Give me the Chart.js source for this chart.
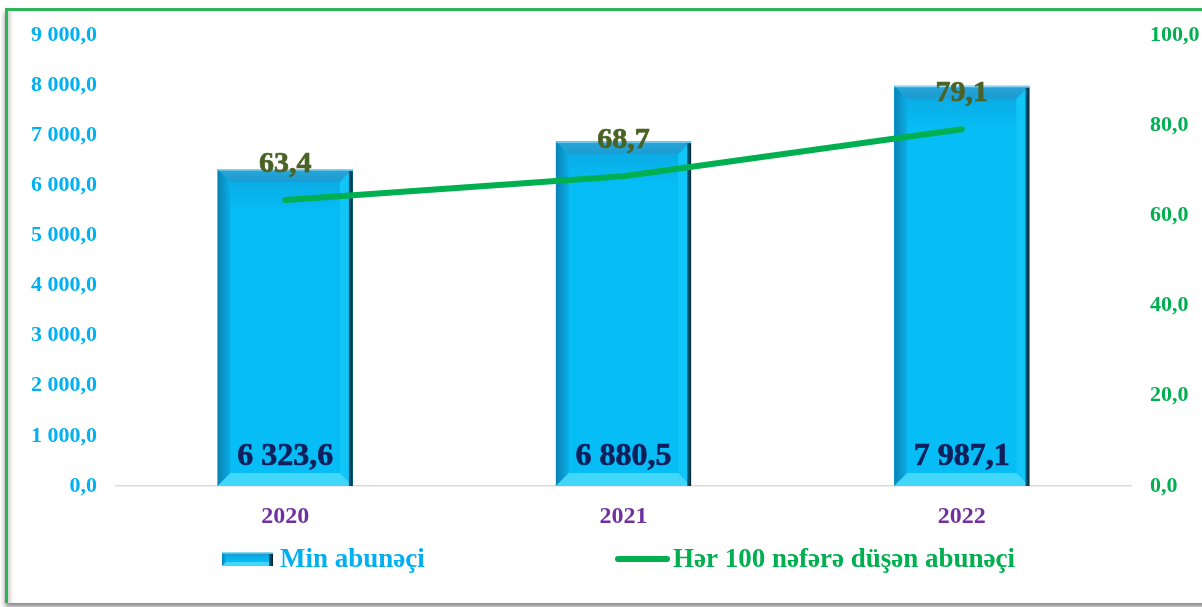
<!DOCTYPE html>
<html>
<head>
<meta charset="utf-8">
<script src="https://cdn.jsdelivr.net/npm/chart.js@4.4.0/dist/chart.umd.min.js"></script>
<style>
  body { margin: 0; background: #fff; }
  #frame {
    position: absolute; left: 5px; top: 8px; width: 1230px; height: 592px;
    border-top: 3px solid #2db457; border-left: 3px solid #2db457;
    box-shadow: inset 5px 0 4px -3px #c8c8c8, 0 4px 5px #8a8a8a;
  }
  #chartBox { position: absolute; left: 0; top: 0; width: 1202px; height: 607px; }
</style>
</head>
<body>
<div id="frame"></div>
<div id="chartBox"><canvas id="myChart" width="1202" height="607"></canvas></div>
<script>
// data
var years = ['2020', '2021', '2022'];
var subscribers = [6323.6, 6880.5, 7987.1];
var per100 = [63.4, 68.7, 79.1];
var seriesNames = ['Min abunəçi', 'Hər 100 nəfərə düşən abunəçi'];

var FONT = "'Liberation Serif', 'Times New Roman', serif";

function fmt(v) {
    var s = v.toFixed(1).split('.');
    return s[0].replace(/\B(?=(\d{3})+(?!\d))/g, ' ') + ',' + s[1];
}

// bevel drawn on top of each bar
function bevelBar(ctx, l, t, r, bot, b) {
    ctx.save();
    ctx.beginPath(); ctx.rect(l, t, r - l, bot - t); ctx.clip();
    ctx.fillStyle = '#06bdf5';
    ctx.fillRect(l, t, r - l, bot - t);
    // top
    var gt = ctx.createLinearGradient(0, t, 0, t + b);
    gt.addColorStop(0, '#2aa6d8'); gt.addColorStop(1, '#1b9bd0');
    ctx.fillStyle = gt;
    ctx.beginPath(); ctx.moveTo(l, t); ctx.lineTo(r, t); ctx.lineTo(r - b, t + b); ctx.lineTo(l + b, t + b); ctx.closePath(); ctx.fill();
    // soft shade under the top bevel
    var sh = Math.max(0, Math.min(30, bot - t - 2 * b));
    if (sh > 0) {
        var gs = ctx.createLinearGradient(0, t + b, 0, t + b + sh);
        gs.addColorStop(0, 'rgba(20,140,200,0.35)'); gs.addColorStop(1, 'rgba(20,140,200,0)');
        ctx.fillStyle = gs;
        ctx.fillRect(l + b, t + b, r - l - 2 * b, sh);
    }
    // left
    var g = ctx.createLinearGradient(l, 0, l + b, 0);
    g.addColorStop(0, '#0a82b4'); g.addColorStop(1, '#0aaee6');
    ctx.fillStyle = g;
    ctx.beginPath(); ctx.moveTo(l, t); ctx.lineTo(l + b, t + b); ctx.lineTo(l + b, bot - b); ctx.lineTo(l, bot); ctx.closePath(); ctx.fill();
    // right
    ctx.fillStyle = '#10c6f9';
    ctx.beginPath(); ctx.moveTo(r, t); ctx.lineTo(r, bot); ctx.lineTo(r - b, bot - b); ctx.lineTo(r - b, t + b); ctx.closePath(); ctx.fill();
    // bottom
    ctx.fillStyle = '#40d7fb';
    ctx.beginPath(); ctx.moveTo(l, bot); ctx.lineTo(r, bot); ctx.lineTo(r - b, bot - b); ctx.lineTo(l + b, bot - b); ctx.closePath(); ctx.fill();
    // dark right edge
    var g2 = ctx.createLinearGradient(r - 4, 0, r, 0);
    g2.addColorStop(0, '#0a6a90'); g2.addColorStop(1, '#06202e');
    ctx.fillStyle = g2;
    ctx.fillRect(r - 4, t + 2, 4, bot - t - 2);
    // light top rim
    ctx.fillStyle = 'rgba(180,235,255,0.7)';
    ctx.fillRect(l, t, r - l, 1.5);
    ctx.restore();
}

var barStyle = {
    id: 'barStyle',
    afterDatasetDraw: function (chart, args) {
        if (args.index !== 0) return;
        var ctx = chart.ctx;
        args.meta.data.forEach(function (bar) {
            var l = bar.x - bar.width / 2, r = bar.x + bar.width / 2;
            bevelBar(ctx, l, bar.y, r, bar.base, 13);
        });
    }
};

function boldText(ctx, txt, x, y) {
    ctx.fillText(txt, x, y);
    ctx.lineWidth = 0.7;
    ctx.strokeStyle = ctx.fillStyle;
    ctx.strokeText(txt, x, y);
}

var valueLabels = {
    id: 'valueLabels',
    afterDatasetsDraw: function (chart) {
        var ctx = chart.ctx;
        ctx.save();
        ctx.textAlign = 'center';
        ctx.textBaseline = 'middle';
        // bar values at bottom of bars
        ctx.font = 'bold 32px ' + FONT;
        ctx.fillStyle = '#0f1f5c';
        chart.getDatasetMeta(0).data.forEach(function (bar, i) {
            boldText(ctx, fmt(subscribers[i]), bar.x, bar.base - 29);
        });
        // line values above points
        ctx.font = 'bold 30px ' + FONT;
        ctx.fillStyle = '#4a6226';
        chart.getDatasetMeta(1).data.forEach(function (pt, i) {
            boldText(ctx, fmt(per100[i]), pt.x, pt.y - 36);
        });
        ctx.restore();
    }
};

var legendBox = {
    id: 'legendBox',
    afterDraw: function (chart) {
        var ctx = chart.ctx;
        var y = 559;
        ctx.save();
        bevelBar(ctx, 222, 552, 273, 566, 4);
        ctx.font = 'bold 27px ' + FONT;
        ctx.textBaseline = 'middle';
        ctx.textAlign = 'left';
        ctx.fillStyle = '#00b0f0';
        ctx.fillText(seriesNames[0], 280, y + 1);
        ctx.strokeStyle = '#00b050';
        ctx.lineWidth = 6;
        ctx.lineCap = 'round';
        ctx.beginPath(); ctx.moveTo(618, y); ctx.lineTo(667, y); ctx.stroke();
        ctx.fillStyle = '#00b050';
        ctx.fillText(seriesNames[1], 673, y + 1);
        ctx.restore();
    }
};

var ctxC = document.getElementById('myChart').getContext('2d');
var myChart = new Chart(ctxC, {
    type: 'bar',
    data: {
        labels: years,
        datasets: [{
            label: seriesNames[0],
            data: subscribers,
            backgroundColor: '#06bdf5',
            yAxisID: 'y',
            order: 1,
            barPercentage: 0.4,
            categoryPercentage: 1
        }, {
            type: 'line',
            label: seriesNames[1],
            data: per100,
            borderColor: '#00b050',
            borderWidth: 6,
            borderCapStyle: 'round',
            pointRadius: 0,
            tension: 0,
            yAxisID: 'y1',
            order: 0
        }]
    },
    options: {
        responsive: false,
        animation: false,
        devicePixelRatio: 1,
        layout: { padding: { top: 35, left: 0, right: 0, bottom: 0 } },
        plugins: {
            legend: { display: false },
            tooltip: { enabled: false }
        },
        scales: {
            x: {
                grid: { display: false, drawTicks: false },
                border: { display: true, color: '#d9d9d9', width: 1.5 },
                ticks: { color: '#7030a0', font: { family: FONT, size: 24, weight: 'bold' }, padding: 16 },
                afterFit: function (s) { s.height = 121; }
            },
            y: {
                position: 'left',
                min: 0, max: 9000,
                grid: { display: false, drawTicks: false },
                border: { display: false },
                ticks: {
                    stepSize: 1000,
                    color: '#00b0f0',
                    padding: 19,
                    font: { family: FONT, size: 22, weight: 'bold' },
                    callback: function (v) { return fmt(v); }
                },
                afterFit: function (s) { s.width = 116; }
            },
            y1: {
                position: 'right',
                min: 0, max: 100,
                grid: { display: false, drawTicks: false },
                border: { display: false },
                ticks: {
                    stepSize: 20,
                    color: '#00b050',
                    padding: 19,
                    font: { family: FONT, size: 22, weight: 'bold' },
                    callback: function (v) { return fmt(v); }
                },
                afterFit: function (s) { s.width = 71; }
            }
        }
    },
    plugins: [barStyle, valueLabels, legendBox]
});
</script>
</body>
</html>
